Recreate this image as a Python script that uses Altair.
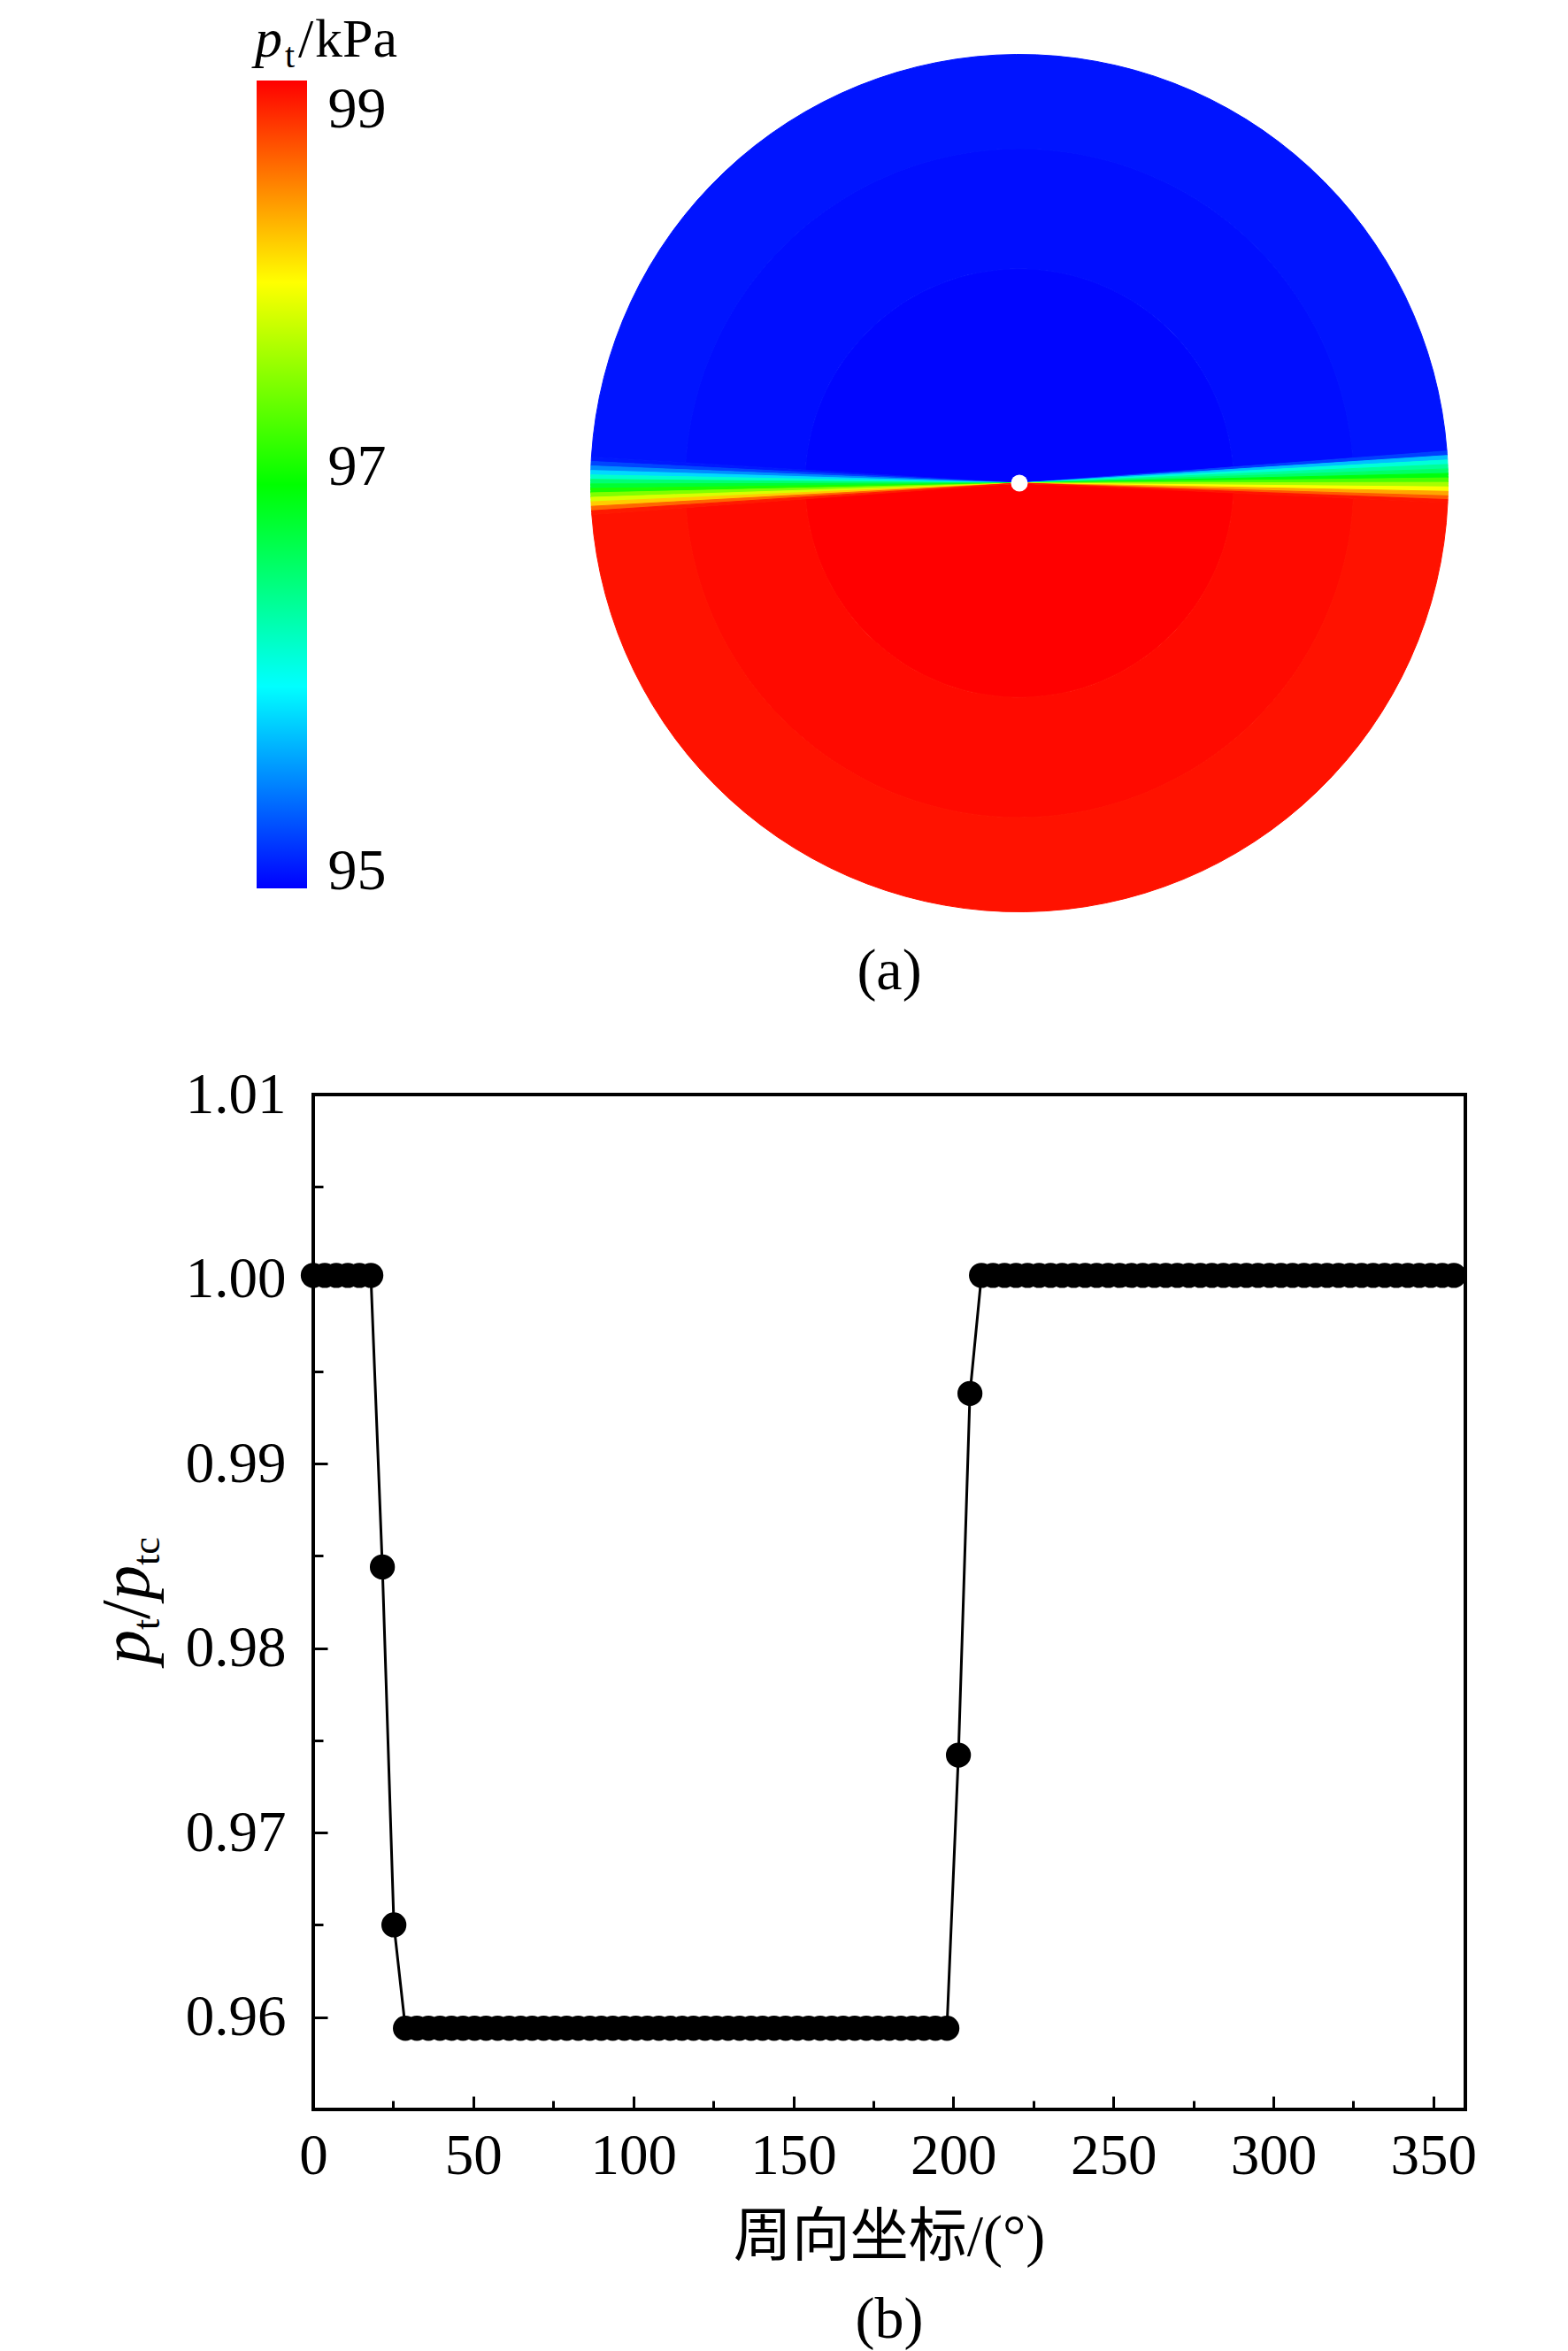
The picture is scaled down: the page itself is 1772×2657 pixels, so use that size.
import altair as alt
import pandas as pd

W, H = 1756, 2649   # drawing area (page minus the 8px margin)

# ---------------- panel (b): p_t / p_tc versus circumferential angle ----------------
angle_deg = [
    0.0, 3.6, 7.2, 10.8, 14.4, 18.0, 21.6, 25.2, 28.8, 32.4,
    36.0, 39.6, 43.2, 46.8, 50.4, 54.0, 57.6, 61.2, 64.8, 68.4,
    72.0, 75.6, 79.2, 82.8, 86.4, 90.0, 93.6, 97.2, 100.8, 104.4,
    108.0, 111.6, 115.2, 118.8, 122.4, 126.0, 129.6, 133.2, 136.8, 140.4,
    144.0, 147.6, 151.2, 154.8, 158.4, 162.0, 165.6, 169.2, 172.8, 176.4,
    180.0, 183.6, 187.2, 190.8, 194.4, 198.0, 201.6, 205.2, 208.8, 212.4,
    216.0, 219.6, 223.2, 226.8, 230.4, 234.0, 237.6, 241.2, 244.8, 248.4,
    252.0, 255.6, 259.2, 262.8, 266.4, 270.0, 273.6, 277.2, 280.8, 284.4,
    288.0, 291.6, 295.2, 298.8, 302.4, 306.0, 309.6, 313.2, 316.8, 320.4,
    324.0, 327.6, 331.2, 334.8, 338.4, 342.0, 345.6, 349.2, 352.8, 356.4,
]
pt_ratio = [
    1.0002, 1.0002, 1.0002, 1.0002, 1.0002, 1.0002, 0.9844, 0.9650, 0.9594, 0.9594,
    0.9594, 0.9594, 0.9594, 0.9594, 0.9594, 0.9594, 0.9594, 0.9594, 0.9594, 0.9594,
    0.9594, 0.9594, 0.9594, 0.9594, 0.9594, 0.9594, 0.9594, 0.9594, 0.9594, 0.9594,
    0.9594, 0.9594, 0.9594, 0.9594, 0.9594, 0.9594, 0.9594, 0.9594, 0.9594, 0.9594,
    0.9594, 0.9594, 0.9594, 0.9594, 0.9594, 0.9594, 0.9594, 0.9594, 0.9594, 0.9594,
    0.9594, 0.9594, 0.9594, 0.9594, 0.9594, 0.9594, 0.9742, 0.9938, 1.0002, 1.0002,
    1.0002, 1.0002, 1.0002, 1.0002, 1.0002, 1.0002, 1.0002, 1.0002, 1.0002, 1.0002,
    1.0002, 1.0002, 1.0002, 1.0002, 1.0002, 1.0002, 1.0002, 1.0002, 1.0002, 1.0002,
    1.0002, 1.0002, 1.0002, 1.0002, 1.0002, 1.0002, 1.0002, 1.0002, 1.0002, 1.0002,
    1.0002, 1.0002, 1.0002, 1.0002, 1.0002, 1.0002, 1.0002, 1.0002, 1.0002, 1.0002,
]
x_domain = [0, 360]
y_domain = [0.955, 1.01]
x_ticks_major = [0, 50, 100, 150, 200, 250, 300, 350]
x_ticks_inner = [50, 100, 150, 200, 250, 300, 350]
x_ticks_minor = [25, 75, 125, 175, 225, 275, 325]
y_ticks_major = [0.96, 0.97, 0.98, 0.99, 1.00, 1.01]
y_ticks_inner = [0.96, 0.97, 0.98, 0.99, 1.00]
y_ticks_minor = [0.955, 0.965, 0.975, 0.985, 0.995, 1.005]

# ---------------- panel (a): total-pressure contour on the disk ----------------
cbar_levels = [95, 96, 97, 98, 99]
cbar_colors = ["#0000ff", "#00ffff", "#00ff00", "#ffff00", "#ff0000"]
cbar_labels = [95, 97, 99]

ring_edges = [0.0, 0.5, 0.78, 1.0]          # fraction of disk radius
upper_ring_kpa = [95.02, 95.05, 95.08]       # blue half, centre -> rim
lower_ring_kpa = [99.00, 98.96, 98.93]       # red half, centre -> rim
upper_span = [-86.5, 85.7]                   # clockwise from 12 o'clock, degrees
lower_span = [92.6, 265.8]
# transition wedges: degrees below the horizontal at 9 o'clock / 3 o'clock
left_band_edges = [-3.5, -2.9, -2.3, -1.7, -1.1, -0.5, 0.1, 0.7, 1.3, 1.9, 2.5, 3.1, 3.7, 4.2]
left_band_kpa = [95.10, 95.27, 95.55, 95.85, 96.20, 96.55, 96.80, 97.10, 97.50, 97.85, 98.20, 98.60, 98.90]
right_band_edges = [-4.3, -3.7, -3.1, -2.5, -1.9, -1.3, -0.7, -0.1, 0.5, 1.1, 1.7, 2.2, 2.6]
right_band_kpa = [95.25, 95.75, 96.15, 96.40, 96.60, 96.95, 97.30, 97.65, 97.98, 98.35, 98.65, 98.92]
hub_radius = 0.0196

# ---------------- layout (pixels inside the drawing area) ----------------
PX0, PX1 = 346, 1648      # plot (b) left / right
PY0, PY1 = 1229, 2376     # plot (b) top / bottom
CX, CY, CR = 1144, 538, 484.5   # disk centre and radius
CB_X0, CB_X1, CB_Y0, CB_Y1 = 282, 339, 83, 996

SERIF = "Liberation Serif"
MIXED = "Liberation Serif, Noto Sans CJK SC"

# ---------------- tables ----------------
df_b = pd.DataFrame({"angle": angle_deg, "ratio": pt_ratio})

rows = []
for i in range(len(upper_ring_kpa)):
    rows.append(dict(t0=upper_span[0], t1=upper_span[1], r0=ring_edges[i], r1=ring_edges[i + 1], v=upper_ring_kpa[i]))
    rows.append(dict(t0=lower_span[0], t1=lower_span[1], r0=ring_edges[i], r1=ring_edges[i + 1], v=lower_ring_kpa[i]))
for i, v in enumerate(left_band_kpa):
    a0, a1 = left_band_edges[i], left_band_edges[i + 1]
    rows.append(dict(t0=270 - a1, t1=270 - a0, r0=0.0, r1=1.0, v=v))
for i, v in enumerate(right_band_kpa):
    a0, a1 = right_band_edges[i], right_band_edges[i + 1]
    rows.append(dict(t0=90 + a0, t1=90 + a1, r0=0.0, r1=1.0, v=v))
df_disk = pd.DataFrame(rows)
df_hub = pd.DataFrame([dict(t0=0, t1=360, r0=0.0, r1=hub_radius)])

# ---------------- scales ----------------
theta_sc = alt.Scale(domain=[0, 360], range=[0, 6.283185307179586])
rad_sc = alt.Scale(type="linear", domain=[0, 1], range=[0, CR], zero=True, nice=False)
col_sc = alt.Scale(domain=cbar_levels, range=cbar_colors, interpolate="rgb")
xs = alt.Scale(domain=x_domain, range=[PX0, PX1], nice=False, zero=False)
ys = alt.Scale(domain=y_domain, range=[PY1, PY0], nice=False, zero=False)
cbs = alt.Scale(domain=[95, 99], range=[CB_Y1, CB_Y0], nice=False, zero=False)

# ---------------- panel (a) ----------------
disk = alt.Chart(df_disk).mark_arc(strokeWidth=1).encode(
    x=alt.value(CX), y=alt.value(CY),
    theta=alt.Theta("t0:Q", scale=theta_sc, stack=False),
    theta2=alt.Theta2("t1"),
    radius=alt.Radius("r1:Q", scale=rad_sc),
    radius2=alt.Radius2("r0"),
    color=alt.Color("v:Q", scale=col_sc, legend=None),
    stroke=alt.Stroke("v:Q", scale=col_sc, legend=None),
)
hub = alt.Chart(df_hub).mark_arc(color="white").encode(
    x=alt.value(CX), y=alt.value(CY),
    theta=alt.Theta("t0:Q", scale=theta_sc, stack=False),
    theta2=alt.Theta2("t1"),
    radius=alt.Radius("r1:Q", scale=rad_sc),
    radius2=alt.Radius2("r0"),
)

gradient = {
    "gradient": "linear", "x1": 0, "x2": 0, "y1": 1, "y2": 0,
    "stops": [{"offset": (lv - 95) / 4, "color": c} for lv, c in zip(cbar_levels, cbar_colors)],
}
cbar = alt.Chart(pd.DataFrame({"lo": [95], "hi": [99]})).mark_rect(color=gradient).encode(
    x=alt.value(CB_X0), x2=alt.value(CB_X1),
    y=alt.Y("lo:Q", scale=cbs, axis=alt.Axis(
        orient="right", offset=CB_X1 - W, values=cbar_labels, ticks=False, tickSize=0,
        domain=False, grid=False, labelPadding=23, labelAlign="left", labelFlush=False,
        labelBaseline={"condition": {"test": "datum.value == 99", "value": "top"}, "value": "alphabetic"},
        labelFont=SERIF, labelFontSize=66, labelColor="black", title=None)),
    y2="hi:Q",
)


def txt(s, x, y, size, style="normal", align="left", angle=0, font=SERIF):
    return alt.Chart(pd.DataFrame({"k": [0]})).mark_text(
        text=s, fontSize=size, fontStyle=style, align=align, baseline="alphabetic",
        angle=angle, font=font, color="black").encode(x=alt.value(x), y=alt.value(y))


texts = [
    # colour-bar title  p_t/kPa
    txt("p", 280, 56, 62, style="italic"),
    txt("t", 314, 68, 40),
    txt("/", 329, 56, 62),
    txt("kPa", 348, 56, 62),
    txt("(a)", 997, 1110, 66, align="center"),
    # y title  p_t/p_tc (rotated)
    txt("p", 159.5, 1873, 78, style="italic", angle=270),
    txt("t", 171.5, 1834, 44, angle=270),
    txt("/", 159.5, 1822, 78, angle=270),
    txt("p", 159.5, 1800, 78, style="italic", angle=270),
    txt("tc", 171.5, 1761, 44, angle=270),
    # x title and panel label
    txt("周向坐标/(°)", 997, 2541, 66, align="center", font=MIXED),
    txt("(b)", 997, 2634, 66, align="center"),
]

# ---------------- panel (b) ----------------
lab_x = alt.Axis(orient="bottom", offset=PY1 - H, values=x_ticks_major, format="d",
                 ticks=False, tickSize=0, domain=False, grid=False, labelPadding=21,
                 labelFlush=False, labelFont=SERIF, labelFontSize=65, labelColor="black", title=None)
lab_y = alt.Axis(orient="left", offset=-PX0, values=y_ticks_major, format=".2f",
                 ticks=False, tickSize=0, domain=False, grid=False, labelPadding=31,
                 labelFlush=False, labelFont=SERIF, labelFontSize=65, labelColor="black", title=None)
maj_x = alt.Axis(orient="top", offset=-PY1, values=x_ticks_inner, labels=False, domain=False,
                 grid=False, tickSize=15, tickWidth=3, tickColor="black", title=None)
maj_y = alt.Axis(orient="right", offset=PX0 - W, values=y_ticks_inner, labels=False, domain=False,
                 grid=False, tickSize=16, tickWidth=3, tickColor="black", title=None)
min_x = alt.Axis(orient="top", offset=-PY1, values=x_ticks_minor, labels=False, domain=False,
                 grid=False, tickSize=10, tickWidth=3, tickColor="black", title=None)
min_y = alt.Axis(orient="right", offset=PX0 - W, values=y_ticks_minor, labels=False, domain=False,
                 grid=False, tickSize=11, tickWidth=3, tickColor="black", title=None)

line = alt.Chart(df_b).mark_line(color="black", strokeWidth=3).encode(
    x=alt.X("angle:Q", scale=xs, axis=lab_x),
    y=alt.Y("ratio:Q", scale=ys, axis=lab_y),
)
frame = alt.Chart(pd.DataFrame({"x0": [x_domain[0]], "x1": [x_domain[1]],
                                "y0": [y_domain[0]], "y1": [y_domain[1]]})).mark_rect(
    fill="white", fillOpacity=0, stroke="black", strokeWidth=4).encode(
    x=alt.X("x0:Q", scale=xs, axis=min_x), x2="x1:Q",
    y=alt.Y("y0:Q", scale=ys, axis=min_y), y2="y1:Q",
)
points = alt.Chart(df_b).mark_point(filled=True, shape="circle", size=800, color="black", opacity=1).encode(
    x=alt.X("angle:Q", scale=xs, axis=maj_x),
    y=alt.Y("ratio:Q", scale=ys, axis=maj_y),
)

chart = alt.layer(disk, hub, cbar, *texts, line, frame, points).resolve_scale(
    x="independent", y="independent"
).properties(
    width=W, height=H, padding=0, autosize=alt.AutoSizeParams(type="none"),
    background="white",
).configure_view(strokeWidth=0)

chart.save("out.html", embed_options={"renderer": "svg", "actions": False})
